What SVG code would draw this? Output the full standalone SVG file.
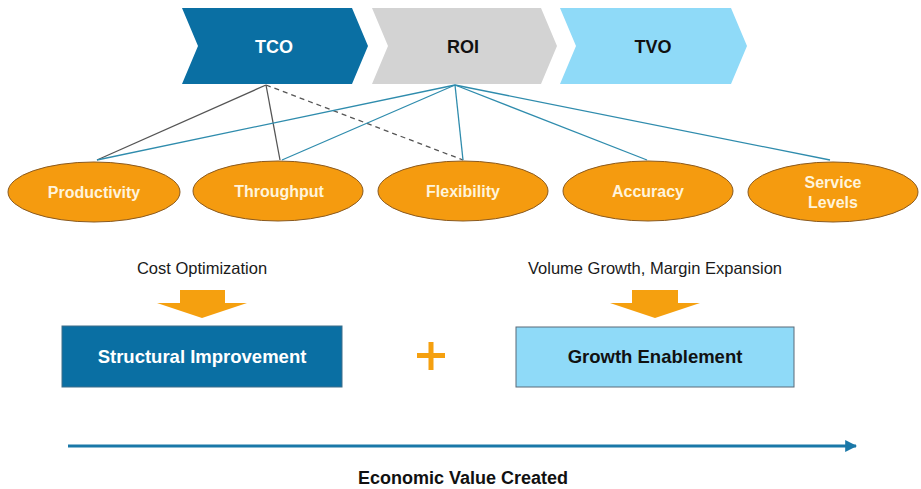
<svg xmlns="http://www.w3.org/2000/svg" width="921" height="489" viewBox="0 0 921 489">
<style>
text{font-family:"Liberation Sans",Arial,sans-serif;text-anchor:middle}
.chev{font-weight:bold;font-size:18px}
.ell{fill:#f59b0f;stroke:#8a5a20;stroke-width:1}
.elt{font-weight:bold;font-size:16px;fill:#fff4dc}
.gray{stroke:#555;stroke-width:1.3;fill:none}
.blue{stroke:#2f8cad;stroke-width:1.3;fill:none}
.lab{font-size:16.5px;fill:#1a1a1a}
.box{font-weight:bold;font-size:18.5px}
.orange{fill:#f5a00f}
</style>
<defs>
<marker id="ah" viewBox="0 0 10 10" refX="9" refY="5" markerWidth="4" markerHeight="4" orient="auto" markerUnits="strokeWidth">
<path d="M0,0 L10,5 L0,10 Z" fill="#1a78a8"/>
</marker>
</defs>
<g id="tco">
<polygon points="182,8 352,8 368,46 352,84 182,84 198,46" fill="#0a6fa3"/>
<text class="chev" x="274" y="53" fill="#ffffff">TCO</text>
</g>
<g id="roi">
<polygon points="372,8 541,8 557,46 541,84 372,84 388,46" fill="#d3d3d3"/>
<text class="chev" x="463" y="53" fill="#111">ROI</text>
</g>
<g id="tvo">
<polygon points="560,8 731,8 747,46 731,84 560,84 576,46" fill="#8fdaf8"/>
<text class="chev" x="653" y="53" fill="#111">TVO</text>
</g>
<g id="connectors">
<line class="gray" x1="266" y1="85" x2="97" y2="160"/>
<line class="gray" x1="266" y1="85" x2="280" y2="160"/>
<line class="gray" x1="266" y1="85" x2="463" y2="160" stroke-dasharray="5,4"/>
<line class="blue" x1="455" y1="85" x2="97" y2="160"/>
<line class="blue" x1="455" y1="85" x2="282" y2="160"/>
<line class="blue" x1="455" y1="85" x2="463" y2="160"/>
<line class="blue" x1="455" y1="85" x2="647" y2="160"/>
<line class="blue" x1="455" y1="85" x2="830" y2="160"/>
<line x1="68" y1="446" x2="856" y2="446" stroke="#1a78a8" stroke-width="3" marker-end="url(#ah)"/>
</g>
<g id="productivity">
<ellipse class="ell" cx="94" cy="192" rx="86" ry="30"/>
<text class="elt" x="94" y="198">Productivity</text>
</g>
<g id="throughput">
<ellipse class="ell" cx="278" cy="191" rx="85" ry="30"/>
<text class="elt" x="279" y="197">Throughput</text>
</g>
<g id="flexibility">
<ellipse class="ell" cx="463" cy="191" rx="85" ry="30"/>
<text class="elt" x="463" y="197">Flexibility</text>
</g>
<g id="accuracy">
<ellipse class="ell" cx="648" cy="191" rx="85" ry="30"/>
<text class="elt" x="648" y="197">Accuracy</text>
</g>
<g id="service-levels">
<ellipse class="ell" cx="833" cy="192" rx="85" ry="30"/>
<text class="elt" x="833" y="188">Service</text>
<text class="elt" x="833" y="208">Levels</text>
</g>
<g id="cost-optimization">
<text class="lab" x="202" y="274">Cost Optimization</text>
<polygon class="orange" points="180,290 225,290 225,303 247,303 202,318 157,303 180,303"/>
</g>
<g id="structural-improvement">
<rect x="62" y="326" width="280" height="61" fill="#0a6fa3" stroke="#3f6f8a" stroke-width="1"/>
<text class="box" x="202" y="363" fill="#ffffff">Structural Improvement</text>
</g>
<g id="plus">
<rect x="417" y="353" width="28" height="5" class="orange"/>
<rect x="428.5" y="342" width="5" height="28" class="orange"/>
</g>
<g id="volume-growth">
<text class="lab" x="655" y="274">Volume Growth, Margin Expansion</text>
<polygon class="orange" points="632,290 678,290 678,303 700,303 655,318 610,303 632,303"/>
</g>
<g id="growth-enablement">
<rect x="516" y="327" width="278" height="60" fill="#8fdaf8" stroke="#5a6a78" stroke-width="1"/>
<text class="box" x="655" y="363" fill="#111">Growth Enablement</text>
</g>
<g id="economic-value">
<text x="463" y="484" font-weight="bold" font-size="18" fill="#111">Economic Value Created</text>
</g>
</svg>
